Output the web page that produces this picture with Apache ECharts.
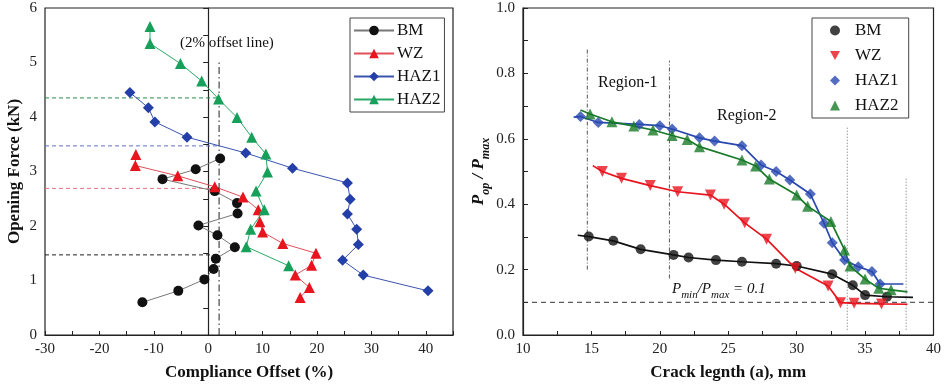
<!DOCTYPE html>
<html><head><meta charset="utf-8">
<script src="https://cdn.jsdelivr.net/npm/echarts@6/dist/echarts.min.js"></script>
<style>html,body{margin:0;padding:0;background:#fff}#c{width:944px;height:391px}</style>
</head><body><div id="c"></div>
<script>
// ---------- Left chart: Opening force vs compliance offset ----------
const seriesNames = ['BM', 'WZ', 'HAZ1', 'HAZ2'];
const bmX = [-12.1, -5.5, -0.7, 1.0, 1.4, 4.9, 1.7, -1.8, 5.4, 5.3, 1.2, -8.4, -2.3, 2.2];
const bmY = [0.60, 0.81, 1.02, 1.21, 1.40, 1.61, 1.83, 2.01, 2.23, 2.42, 2.64, 2.86, 3.04, 3.24];
const wzX = [-13.3, -13.4, -5.6, 1.2, 6.4, 9.2, 9.5, 10.0, 13.7, 19.8, 19.0, 16.0, 18.6, 16.9];
const wzY = [3.31, 3.11, 2.92, 2.72, 2.53, 2.30, 2.08, 1.89, 1.68, 1.50, 1.28, 1.10, 0.87, 0.69];
const haz1X = [-14.4, -11.0, -9.8, -3.9, 6.9, 15.5, 25.6, 26.1, 25.6, 27.3, 27.6, 24.7, 28.5, 40.4];
const haz1Y = [4.45, 4.17, 3.91, 3.63, 3.34, 3.06, 2.79, 2.49, 2.22, 1.94, 1.66, 1.37, 1.10, 0.81];
const haz2X = [-10.7, -10.7, -5.1, -1.2, 1.9, 5.3, 8.0, 10.6, 10.9, 8.8, 10.3, 7.8, 7.0, 14.8];
const haz2Y = [5.66, 5.35, 4.98, 4.66, 4.33, 3.99, 3.63, 3.32, 2.99, 2.64, 2.30, 1.94, 1.62, 1.27];
const offsetLineX = 2;          // 2% offset line
const offsetLineTop = 5.04;
const openForceLevels = [4.35, 3.47, 2.69, 1.47]; // HAZ2, HAZ1, WZ, BM
const leftXLabels = [-30, -20, -10, 0, 10, 20, 30, 40];
const leftXTicks = [-30, -25, -20, -15, -10, -5, 0, 5, 10, 15, 20, 25, 30, 35, 40, 45];
const leftYLabels = [0, 1, 2, 3, 4, 5, 6];
const leftYTicks = [0, 0.5, 1, 1.5, 2, 2.5, 3, 3.5, 4, 4.5, 5, 5.5, 6];

// ---------- Right chart: Pop/Pmax vs crack length ----------
const rBmX = [14.8, 16.6, 18.6, 21.0, 22.1, 24.1, 26.0, 28.5, 30.0, 32.6, 34.1, 35.0, 36.6];
const rBmY = [0.301, 0.288, 0.262, 0.245, 0.237, 0.229, 0.224, 0.218, 0.211, 0.186, 0.152, 0.122, 0.117];
const rBmLineEnds = [[14.0, 0.305], [38.5, 0.115]];
const rWzX = [15.8, 17.2, 19.3, 21.3, 23.7, 24.7, 26.2, 27.8, 29.9, 32.3, 33.2, 34.2, 36.2];
const rWzY = [0.500, 0.479, 0.457, 0.438, 0.428, 0.400, 0.343, 0.293, 0.204, 0.150, 0.099, 0.097, 0.095];
const rWzLineEnds = [[15.1, 0.518], [38.1, 0.094]];
const rH1X = [14.2, 15.5, 18.5, 20.0, 20.9, 22.9, 24.0, 26.0, 27.4, 28.5, 29.5, 31.0, 32.0, 32.6, 33.5, 34.5, 35.5, 36.1];
const rH1Y = [0.668, 0.650, 0.644, 0.640, 0.630, 0.603, 0.593, 0.579, 0.520, 0.500, 0.474, 0.431, 0.342, 0.282, 0.229, 0.209, 0.194, 0.156];
const rH1LineEnds = [[13.7, 0.666], [37.8, 0.156]];
const rH2X = [14.9, 16.5, 18.1, 19.5, 20.9, 22.0, 22.9, 26.0, 27.0, 28.0, 30.0, 30.8, 32.5, 33.5, 33.9, 35.0, 36.0, 36.9];
const rH2Y = [0.676, 0.652, 0.639, 0.627, 0.610, 0.598, 0.576, 0.535, 0.517, 0.477, 0.428, 0.394, 0.347, 0.260, 0.211, 0.171, 0.143, 0.138];
const rH2LineEnds = [[14.2, 0.688], [38.1, 0.132]];
const regionLines = [[14.7, 0.20, 0.874], [20.7, 0.173, 0.839], [33.7, 0.015, 0.637], [38.0, 0.015, 0.479]];
const pminRatio = 0.1;
const rightXLabels = [10, 15, 20, 25, 30, 35, 40];
const rightXTicks = [10, 12.5, 15, 17.5, 20, 22.5, 25, 27.5, 30, 32.5, 35, 37.5, 40];
const rightYLabels = [0, 0.2, 0.4, 0.6, 0.8, 1.0];
const rightYTicks = [0, 0.1, 0.2, 0.3, 0.4, 0.5, 0.6, 0.7, 0.8, 0.9, 1.0];

const zip = (xs, ys) => xs.map((x, i) => [x, ys[i]]);
const FONT = 'Liberation Serif';
const AX = '#222';

const leftColors = { BM: '#111', WZ: '#e8141e', HAZ1: '#2440a8', HAZ2: '#17a05a' };
const leftLineColors = { BM: '#777', WZ: '#e0505a', HAZ1: '#3a55b0', HAZ2: '#2aa868' };
const rightColors = { BM: '#111', WZ: '#e8141e', HAZ1: '#2848b0', HAZ2: '#187a28' };
const symbols = { BM: 'circle', WZ: 'triangle', HAZ1: 'diamond', HAZ2: 'triangle' };
const downTri = 'path://M0,0 L10,0 L5,9 Z';

const leftData = { BM: zip(bmX, bmY), WZ: zip(wzX, wzY), HAZ1: zip(haz1X, haz1Y), HAZ2: zip(haz2X, haz2Y) };
const rightData = { BM: zip(rBmX, rBmY), WZ: zip(rWzX, rWzY), HAZ1: zip(rH1X, rH1Y), HAZ2: zip(rH2X, rH2Y) };
const rightEnds = { BM: rBmLineEnds, WZ: rWzLineEnds, HAZ1: rH1LineEnds, HAZ2: rH2LineEnds };

const series = [];
// reference lines left
const levelColors = ['#2a8a4a', '#6070c8', '#e87080', '#222'];
openForceLevels.forEach((v, i) => series.push({
  type: 'line', xAxisIndex: 0, yAxisIndex: 0, silent: true, symbol: 'none', z: 1,
  data: [[-30, v], [offsetLineX, v]],
  lineStyle: { color: levelColors[i], width: 1, type: [4, 3] }
}));
series.push({
  type: 'line', xAxisIndex: 0, yAxisIndex: 0, silent: true, symbol: 'none', z: 1,
  data: [[offsetLineX, 0], [offsetLineX, offsetLineTop]],
  lineStyle: { color: '#222', width: 1, type: [7, 3, 1.5, 3] }
});
seriesNames.forEach(n => series.push({
  name: n, type: 'line', xAxisIndex: 0, yAxisIndex: 0, data: leftData[n],
  symbol: symbols[n], symbolSize: n === 'BM' ? 10 : 11,
  itemStyle: { color: leftColors[n] },
  lineStyle: { color: leftLineColors[n], width: 1 }, z: 3, animation: false
}));

// right reference lines
series.push({
  type: 'line', xAxisIndex: 1, yAxisIndex: 1, silent: true, symbol: 'none', z: 1,
  data: [[10, pminRatio], [40, pminRatio]],
  lineStyle: { color: '#333', width: 1, type: [5, 4] }
});
regionLines.forEach((r, i) => series.push({
  type: 'line', xAxisIndex: 1, yAxisIndex: 1, silent: true, symbol: 'none', z: 1,
  data: [[r[0], r[1]], [r[0], r[2]]],
  lineStyle: { color: i < 2 ? '#555' : '#999', width: 1, type: i < 2 ? [4, 2, 1, 2] : [1.5, 1.5] }
}));
seriesNames.forEach(n => {
  const e = rightEnds[n];
  series.push({
    type: 'line', xAxisIndex: 1, yAxisIndex: 1, silent: true, symbol: 'none', z: 2,
    data: [e[0], ...rightData[n], e[1]],
    lineStyle: { color: rightColors[n], width: 1.7 }
  });
  series.push({
    name: n + ' ', type: 'scatter', xAxisIndex: 1, yAxisIndex: 1, data: rightData[n],
    symbol: symbols[n], symbolRotate: n === 'WZ' ? 180 : 0, symbolSize: n === 'BM' ? 10 : 11,
    itemStyle: { color: rightColors[n] }, z: 3
  });
});

const tickLbl = { fontFamily: FONT, fontSize: 15, color: '#222' };
const nameStyle = { fontFamily: FONT, fontSize: 17, fontWeight: 'bold', color: '#111' };

const option = {
  animation: false,
  backgroundColor: '#fff',
  grid: [
    { left: 45, right: 491, top: 8, bottom: 56, show: true, borderColor: AX, borderWidth: 1.2 },
    { left: 523, right: 10, top: 8, bottom: 56, show: true, borderColor: AX, borderWidth: 1.2 }
  ],
  xAxis: [
    { type: 'value', gridIndex: 0, min: -30, max: 45,
      name: 'Compliance Offset (%)', nameLocation: 'middle', nameGap: 29, nameTextStyle: nameStyle,
      axisLine: { show: true, lineStyle: { color: AX, width: 1.2 } },
      axisTick: { show: true, inside: true, length: 4, customValues: leftXTicks, lineStyle: { color: AX } },
      axisLabel: { customValues: leftXLabels, ...tickLbl, margin: 7 },
      splitLine: { show: false } },
    { type: 'value', gridIndex: 1, min: 10, max: 40,
      name: 'Crack legnth (a), mm', nameLocation: 'middle', nameGap: 29, nameTextStyle: nameStyle,
      axisLine: { show: true, lineStyle: { color: AX, width: 1.2 } },
      axisTick: { show: true, inside: true, length: 4, customValues: rightXTicks, lineStyle: { color: AX } },
      axisLabel: { customValues: rightXLabels, ...tickLbl, margin: 7 },
      splitLine: { show: false } }
  ],
  yAxis: [
    { type: 'value', gridIndex: 0, min: 0, max: 6,
      name: 'Opening Force (kN)', nameLocation: 'middle', nameGap: 22, nameTextStyle: nameStyle,
      axisLine: { show: true, lineStyle: { color: AX, width: 1.2 } },
      axisTick: { show: true, inside: false, length: 5, customValues: leftYTicks, lineStyle: { color: AX } },
      axisLabel: { customValues: leftYLabels, ...tickLbl, margin: 8 },
      splitLine: { show: false } },
    { type: 'value', gridIndex: 1, min: 0, max: 1,
      name: '{i|P}{s|op}{i| / P}{s|max}', nameLocation: 'middle', nameGap: 36,
      nameTextStyle: { ...nameStyle, fontStyle: 'italic',
        rich: { i: { fontFamily: FONT, fontSize: 17, fontWeight: 'bold', fontStyle: 'italic', color: '#111', verticalAlign: 'bottom' },
                s: { fontFamily: FONT, fontSize: 12, fontWeight: 'bold', fontStyle: 'italic', color: '#111', verticalAlign: 'bottom', padding: [0, 0, -5, 0] } } },
      axisLine: { show: true, lineStyle: { color: AX, width: 1.2 } },
      axisTick: { show: true, inside: true, length: 5, customValues: rightYTicks, lineStyle: { color: AX } },
      axisLabel: { customValues: rightYLabels, ...tickLbl, margin: 8, formatter: v => v.toFixed(1) },
      splitLine: { show: false } }
  ],
  legend: [
    { data: seriesNames, orient: 'vertical', left: 350, top: 18, width: 95,
      padding: [4, 4, 4, 3], itemGap: 6, itemWidth: 40, itemHeight: 12,
      borderColor: '#444', borderWidth: 1, borderRadius: 0,
      textStyle: { fontFamily: FONT, fontSize: 17, color: '#111', padding: [0, 0, 0, -2] } },
    { data: seriesNames.map(n => n === 'WZ' ? { name: n + ' ', icon: downTri } : n + ' '),
      orient: 'vertical', left: 812, top: 18,
      padding: [4, 6, 4, 18], itemGap: 8, itemWidth: 10, itemHeight: 10,
      borderColor: '#444', borderWidth: 1, borderRadius: 0,
      textStyle: { fontFamily: FONT, fontSize: 17, color: '#111', padding: [0, 0, 0, 10] } }
  ],
  graphic: [
    { type: 'text', left: 180, top: 36, style: { text: '(2% offset line)', font: '15px "Liberation Serif"', fill: '#111' } },
    { type: 'text', left: 598, top: 75, style: { text: 'Region-1', font: '16px "Liberation Serif"', fill: '#111' } },
    { type: 'text', left: 717, top: 108, style: { text: 'Region-2', font: '16px "Liberation Serif"', fill: '#111' } },
    { type: 'text', left: 672, top: 282, style: {
        text: '{i|P}{s|min}{i|/P}{s|max}{i| = 0.1}',
        rich: { i: { fontFamily: FONT, fontSize: 15, fontStyle: 'italic', fill: '#111', verticalAlign: 'bottom' },
                s: { fontFamily: FONT, fontSize: 11, fontStyle: 'italic', fill: '#111', verticalAlign: 'bottom', padding: [0, 0, -4, 0] } } } }
  ],
  series
};
const chart = echarts.init(document.getElementById('c'));
chart.setOption(option);
</script></body></html>
